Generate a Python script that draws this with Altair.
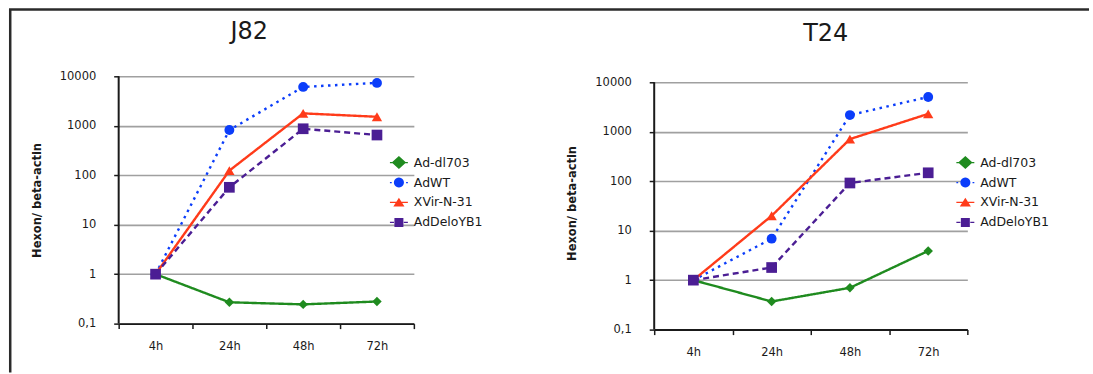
import math
import altair as alt
import pandas as pd

# ---- data -------------------------------------------------------------
times = ["4h", "24h", "48h", "72h"]
series = ["Ad-dl703", "AdWT", "XVir-N-31", "AdDeloYB1"]

j82_dl703 = [1, 0.27, 0.245, 0.28]
j82_adwt = [1, 820, 6100, 7360]
j82_xvir = [1, 124, 1780, 1520]
j82_deloyb1 = [1, 57, 870, 650]

t24_dl703 = [1, 0.37, 0.70, 3.9]
t24_adwt = [1, 6.9, 2170, 5050]
t24_xvir = [1, 20, 710, 2300]
t24_deloyb1 = [1, 1.8, 92, 148]

y_ticks = [0.1, 1, 10, 100, 1000, 10000]

# ---- styling ----------------------------------------------------------
colors = ["#1f8b1f", "#0b3dfa", "#ff3b1a", "#4b1e94"]
dashes = [[1, 0], [2.5, 4.5], [1, 0], [6, 4]]
marker_shapes = ["diamond", "circle", "triangle-up", "square"]
marker_sizes = [90, 115, 150, 110]
FONT = "DejaVu Sans"
INK = "#1a1a1a"


def poly(points):
    return "M" + "L".join(f"{x:.3f},{y:.3f}" for x, y in points) + "Z"


def bar(x0, x1, h=0.07):
    return f"M{x0},{-h}H{x1}V{h}H{x0}Z"


# legend keys: marker drawn over a short line sample in the series' dash style
circle = poly([(0.56 * math.cos(2 * math.pi * k / 24), 0.56 * math.sin(2 * math.pi * k / 24)) for k in range(24)])
legend_symbols = [
    bar(-1, 1) + poly([(-0.8, 0), (0, -0.72), (0.8, 0), (0, 0.72)]),
    bar(-1, -0.8) + bar(0.8, 1) + circle,
    bar(-1, 1) + poly([(-0.62, 0.45), (0, -0.52), (0.62, 0.45)]),
    bar(-1, -0.55) + bar(0.55, 1) + poly([(-0.5, -0.5), (0.5, -0.5), (0.5, 0.5), (-0.5, 0.5)]),
]

Y_TITLE = "Hexon/ beta-actin"


def panel(name, values, width, height, y_top, legend_x, legend_y, title_dx, title_offset):
    rows = [
        {"time": t, "series": s, "value": v}
        for s, vals in zip(series, values)
        for t, v in zip(times, vals)
    ]
    df = pd.DataFrame(rows)
    base = alt.Chart(df)

    x = alt.X(
        "time:N",
        sort=times,
        scale=alt.Scale(domain=times, paddingInner=0, paddingOuter=0),
        axis=alt.Axis(
            title=None, tickBand="extent", labelAngle=0, labelFont=FONT,
            labelFontSize=11.5, labelColor=INK, labelPadding=12, tickSize=5,
            tickColor=INK, tickWidth=1.5, domainColor=INK, domainWidth=2, grid=False,
        ),
    )
    y_scale = alt.Scale(type="log", domain=[0.1, y_top], nice=False)
    y = alt.Y(
        "value:Q",
        scale=y_scale,
        title=Y_TITLE,
        axis=alt.Axis(
            values=y_ticks,
            labelExpr="datum.value < 1 ? '0,1' : format(datum.value, 'd')",
            labelFont=FONT, labelFontSize=11.5, labelColor=INK, labelPadding=18,
            tickSize=5, tickColor=INK, tickWidth=1.5, domain=False,
            grid=True, gridColor="#a0a0a0", gridWidth=1.6,
            titleFont=FONT, titleFontSize=11.5, titleFontWeight="bold",
            titleColor=INK, titlePadding=17,
        ),
    )
    color_scale = alt.Scale(domain=series, range=colors)

    lines = base.mark_line(strokeWidth=2.4).encode(
        x=x, y=y,
        color=alt.Color("series:N", scale=color_scale, legend=None),
        strokeDash=alt.StrokeDash("series:N", scale=alt.Scale(domain=series, range=dashes), legend=None),
    )
    points = base.mark_point(filled=True, opacity=1).encode(
        x=x, y=y,
        color=alt.Color("series:N", scale=color_scale, legend=None),
        shape=alt.Shape("series:N", scale=alt.Scale(domain=series, range=marker_shapes), legend=None),
        size=alt.Size("series:O", scale=alt.Scale(domain=series, range=marker_sizes), legend=None),
    )

    # y axis line drawn from 0,1 up to 10000
    axis_df = pd.DataFrame({"value": [0.1], "top": [10000]})
    y_line = alt.Chart(axis_df).mark_rule(color=INK, strokeWidth=2).encode(
        x=alt.value(0),
        y=alt.Y("value:Q", scale=y_scale, title=Y_TITLE),
        y2="top:Q",
    )

    legend = alt.Legend(
        title=None, orient="none", legendX=legend_x, legendY=legend_y,
        labelFont=FONT, labelFontSize=12.5, labelColor=INK, labelOffset=6,
        symbolSize=324, symbolStrokeWidth=0, rowPadding=4, padding=0,
    )
    key = base.transform_filter("false").mark_point(filled=True, opacity=1).encode(
        color=alt.Color("series:N", scale=color_scale, legend=legend),
        shape=alt.Shape("series:N", scale=alt.Scale(domain=series, range=legend_symbols), legend=legend),
    )

    return (
        alt.layer(lines, points, y_line, key)
        .resolve_scale(color="independent", shape="independent", size="independent", strokeDash="independent")
        .properties(
            width=width,
            height=height,
            title=alt.TitleParams(
                text=name, font=FONT, fontSize=24, fontWeight="normal", color=INK,
                anchor="middle", frame="group", baseline="alphabetic",
                offset=title_offset, dx=title_dx,
            ),
        )
    )


left = panel("J82", [j82_dl703, j82_adwt, j82_xvir, j82_deloyb1],
             296, 248, 10000, 272, 77.5, -17, 7)
# the right panel sits 6 px lower: its scale reaches a little past 10000
right = panel("T24", [t24_dl703, t24_adwt, t24_xvir, t24_deloyb1],
              314, 254, 10 ** (4 + 6 / 49.6), 303, 77.5, 15, 11)

panels = alt.hconcat(left, right, spacing=241, bounds="flush")

# frame lines along the top and left edge of the figure
frame_src = alt.Data(values=[{}])
frame = alt.layer(
    alt.Chart(frame_src).mark_rule(color="#2a2a2a", strokeWidth=2.5).encode(
        x=alt.value(1.25), y=alt.value(-67), y2=alt.value(297)
    ),
    alt.Chart(frame_src).mark_rule(color="#2a2a2a", strokeWidth=2.5).encode(
        x=alt.value(0), x2=alt.value(1083), y=alt.value(-67)
    ),
).properties(width=1, height=1)

chart = (
    alt.hconcat(frame, panels, spacing=109, bounds="flush")
    .properties(padding={"left": 7, "top": 7, "right": 2, "bottom": 0}, background="white")
    .configure_view(stroke=None)
)

chart.save("out.html", embed_options={"renderer": "svg", "actions": False})
